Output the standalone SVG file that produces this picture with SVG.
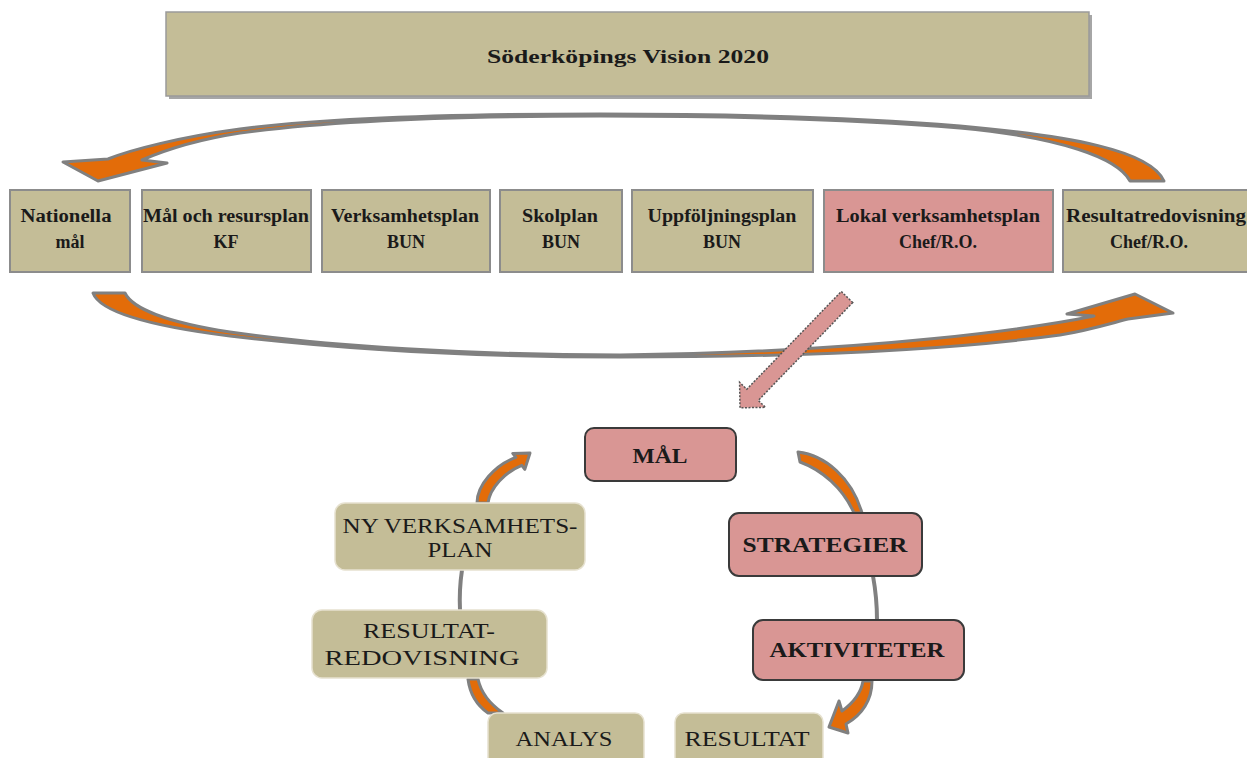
<svg xmlns="http://www.w3.org/2000/svg" width="1247" height="758" viewBox="0 0 1247 758">
<style>
.tan{fill:#c4bd97;stroke:#8c8c8c;stroke-width:2}
.pink{fill:#d99694;stroke:#8c8c8c;stroke-width:2}
.cpink{fill:#d99694;stroke:#3a3a3a;stroke-width:2}
.ctan{fill:#c4bd97;stroke:#e6e1cf;stroke-width:1.5}
.arc{fill:#e36c09;stroke:#808080;stroke-width:3;stroke-linejoin:round}
.line{fill:none;stroke:#808080;stroke-width:4}
.hd{font-family:"Liberation Serif",serif;font-weight:bold;font-size:18px;text-anchor:middle;fill:#1a1a1a}
.cy{font-family:"Liberation Serif",serif;font-size:20px;text-anchor:middle;fill:#1a1a1a}
.cyb{font-family:"Liberation Serif",serif;font-weight:bold;font-size:20px;text-anchor:middle;fill:#1a1a1a}
</style>
<rect width="1247" height="758" fill="#ffffff"/>
<g id="connectors">
<path class="arc" d="M 1164,181 C 1150,150 1070,136 960,126 C 840,116 720,114 600,114 C 450,114 320,119 240,129 C 180,137 130,150 108,159 L 63,162 L 98,181 L 167,163 L 142,160 C 165,150 195,140 240,133 C 320,122 450,116 600,116 C 720,116 840,118 960,128 C 1060,137 1118,158 1130,181 Z"/>
<path class="arc" d="M 93,293 C 100,312 150,326 230,336 C 350,350 480,357 620,357 C 800,357 950,350 1060,335 C 1090,330 1112,323 1128,319 L 1173,313 L 1135,294 L 1067,314 L 1094,316 C 1040,327 880,352 620,355 C 470,355 330,346 230,332 C 165,322 132,308 125,293 Z"/>
<path transform="translate(847,297) rotate(134)" d="M0,-8 L136,-8 L136,-18 L154,0 L136,18 L136,8 L0,8 Z" fill="#d99694" stroke="#555555" stroke-width="1.5" stroke-dasharray="2,1.5"/>
<path class="arc" d="M 477,503 C 477,485 495,465 515.8,457.4 L 512.8,453.4 L 530,453 L 524.8,469.4 L 521.8,465.4 C 505,472 490,488 488,503 Z"/>
<path class="arc" d="M 798,452 C 825,455 852,478 862,513 L 854,513 C 843,488 822,470 800,462 Z"/>
<path class="arc" d="M 863,681 C 861,693 853,703 842,711 L 839,701 L 829,727 L 848,733 L 846,724 C 862,715 872,700 872,681 Z"/>
<path class="arc" d="M 468,679 C 470,695 478,706 488,713 L 503,713 C 490,704 481,693 478,679 Z"/>
<path class="line" d="M 462,570 Q 459,590 460,610"/>
<path class="line" d="M 873,576 Q 877,598 877,620"/>
</g>
<g id="vision">
<rect x="169" y="15" width="923" height="84" fill="#a6a6a6"/>
<rect x="166" y="12" width="923" height="84" fill="#c4bd97" stroke="#9a9a9a" stroke-width="1.5"/>
<text class="hd" x="628" y="63" font-size="22" textLength="282" lengthAdjust="spacingAndGlyphs">Söderköpings Vision 2020</text>
</g>
<g id="nationella">
<rect class="tan" x="10" y="190" width="120" height="82"/>
<text class="hd" x="66" y="222" textLength="91" lengthAdjust="spacingAndGlyphs">Nationella</text>
<text class="hd" x="70" y="248">mål</text>
</g>
<g id="malresurs">
<rect class="tan" x="142" y="190" width="169" height="82"/>
<text class="hd" x="226" y="222" textLength="166" lengthAdjust="spacingAndGlyphs">Mål och resursplan</text>
<text class="hd" x="226" y="248">KF</text>
</g>
<g id="verksamhetsplan">
<rect class="tan" x="322" y="190" width="168" height="82"/>
<text class="hd" x="405" y="222" textLength="148" lengthAdjust="spacingAndGlyphs">Verksamhetsplan</text>
<text class="hd" x="406" y="248">BUN</text>
</g>
<g id="skolplan">
<rect class="tan" x="500" y="190" width="122" height="82"/>
<text class="hd" x="560" y="222" textLength="76" lengthAdjust="spacingAndGlyphs">Skolplan</text>
<text class="hd" x="561" y="248">BUN</text>
</g>
<g id="uppfoljning">
<rect class="tan" x="632" y="190" width="181" height="82"/>
<text class="hd" x="722" y="222" textLength="149" lengthAdjust="spacingAndGlyphs">Uppföljningsplan</text>
<text class="hd" x="722" y="248">BUN</text>
</g>
<g id="lokal">
<rect class="pink" x="824" y="190" width="229" height="82"/>
<text class="hd" x="938" y="222" textLength="204" lengthAdjust="spacingAndGlyphs">Lokal verksamhetsplan</text>
<text class="hd" x="938" y="248">Chef/R.O.</text>
</g>
<g id="resultatredovisning">
<rect class="tan" x="1063" y="190" width="195" height="82"/>
<text class="hd" x="1156" y="222" textLength="180" lengthAdjust="spacingAndGlyphs">Resultatredovisning</text>
<text class="hd" x="1149" y="248">Chef/R.O.</text>
</g>
<g id="mal">
<rect class="cpink" x="585" y="428" width="151" height="53" rx="9"/>
<text class="cyb" x="660" y="463" font-size="19" textLength="55" lengthAdjust="spacingAndGlyphs">MÅL</text>
</g>
<g id="strategier">
<rect class="cpink" x="729" y="513" width="193" height="63" rx="10"/>
<text class="cyb" x="825" y="552" textLength="165" lengthAdjust="spacingAndGlyphs">STRATEGIER</text>
</g>
<g id="aktiviteter">
<rect class="cpink" x="753" y="620" width="211" height="60" rx="10"/>
<text class="cyb" x="857" y="657" textLength="175" lengthAdjust="spacingAndGlyphs">AKTIVITETER</text>
</g>
<g id="resultat">
<rect class="ctan" x="675" y="713" width="148" height="60" rx="9"/>
<text class="cy" x="747" y="746" textLength="125" lengthAdjust="spacingAndGlyphs">RESULTAT</text>
</g>
<g id="analys">
<rect class="ctan" x="488" y="713" width="156" height="60" rx="9"/>
<text class="cy" x="564" y="746" textLength="97" lengthAdjust="spacingAndGlyphs">ANALYS</text>
</g>
<g id="resultatredov">
<rect class="ctan" x="312" y="610" width="235" height="68" rx="10"/>
<text class="cy" x="429" y="638" textLength="132" lengthAdjust="spacingAndGlyphs">RESULTAT-</text>
<text class="cy" x="422" y="665" textLength="195" lengthAdjust="spacingAndGlyphs">REDOVISNING</text>
</g>
<g id="nyverksamhetsplan">
<rect class="ctan" x="335" y="503" width="250" height="67" rx="10"/>
<text class="cy" x="460" y="533" textLength="235" lengthAdjust="spacingAndGlyphs">NY VERKSAMHETS-</text>
<text class="cy" x="460" y="557" textLength="65" lengthAdjust="spacingAndGlyphs">PLAN</text>
</g>
</svg>
